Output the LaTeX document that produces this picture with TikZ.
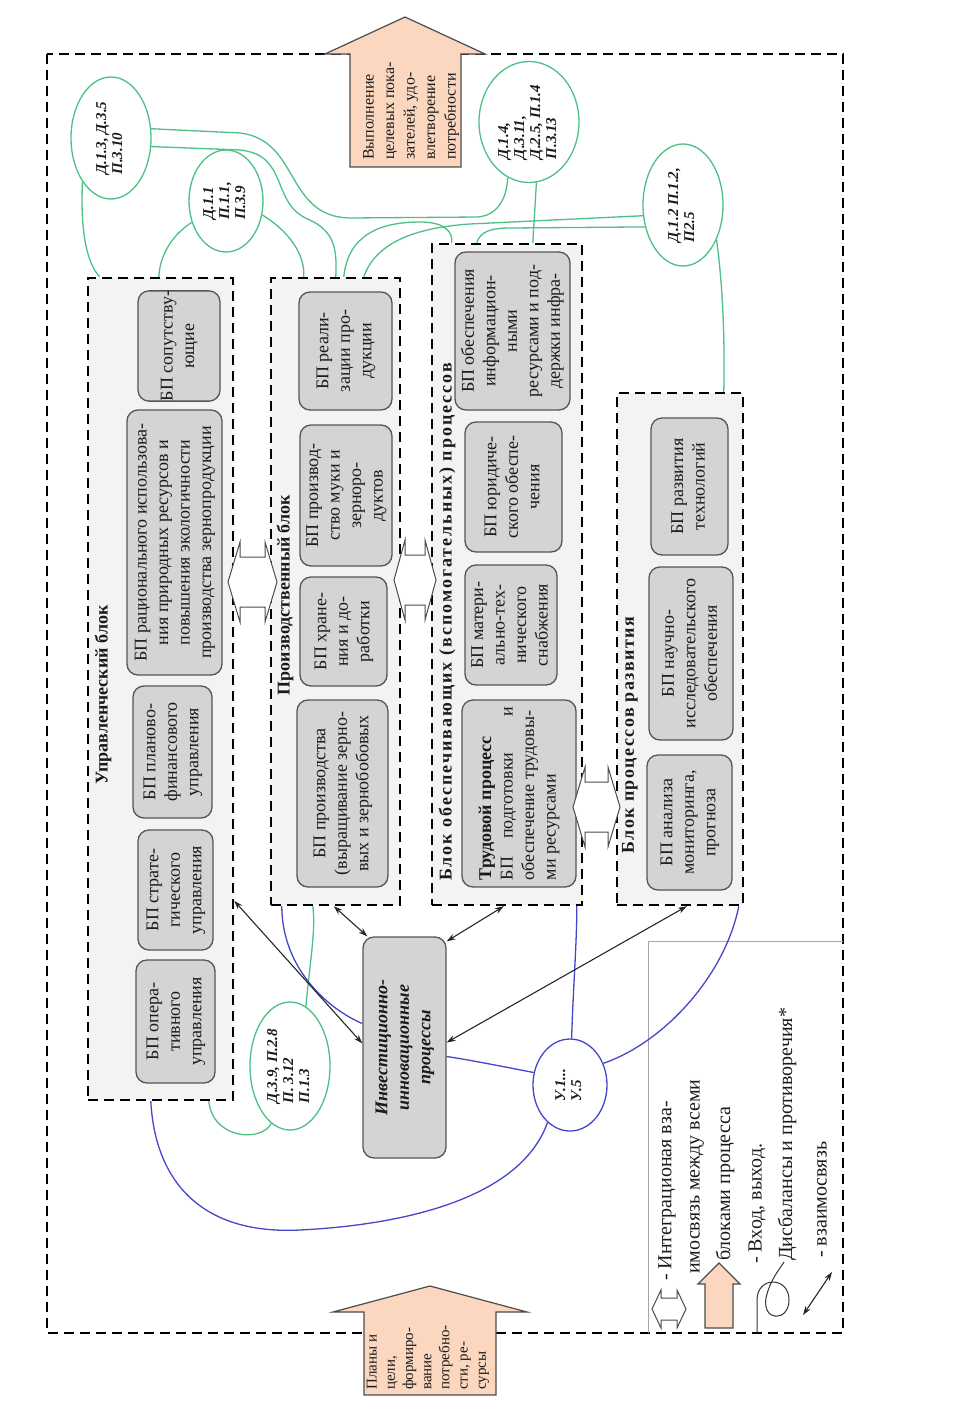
\documentclass[tikz,border=0pt]{standalone}
\usepackage{fontspec}
\setmainfont{Liberation Serif}
\usetikzlibrary{calc,arrows.meta,shapes.geometric}
\definecolor{blkfill}{HTML}{F3F3F3}
\definecolor{boxfill}{HTML}{D4D4D4}
\definecolor{boxdraw}{HTML}{555555}
\definecolor{peach}{HTML}{FAD7BE}
\definecolor{grn}{HTML}{4CC085}
\definecolor{blu}{HTML}{4646C8}
\definecolor{txt}{HTML}{1A1A1A}
\newcommand{\rtc}[1]{\rotatebox{90}{\begin{tabular}{@{}c@{}}#1\end{tabular}}}
\newcommand{\rtl}[1]{\rotatebox{90}{\begin{tabular}{@{}l@{}}#1\end{tabular}}}
\begin{document}
\begin{tikzpicture}[x=1pt,y=-1pt,
  blockbox/.style={draw=black, line width=2.4pt, dash pattern=on 10pt off 6pt, fill=blkfill, inner sep=0pt},
  pbox/.style={draw=boxdraw, line width=1.3pt, fill=boxfill, rounded corners=11pt, inner sep=0pt, text=txt, font=\fontsize{18}{21.5}\selectfont},
  ttl/.style={font=\bfseries\fontsize{18}{21.5}\selectfont, text=txt, inner sep=0pt, rotate=90},
  ell/.style={ellipse, draw=grn, line width=1.3pt, fill=white, inner sep=0pt, text=txt, font=\bfseries\itshape\fontsize{15}{16}\selectfont},
  uell/.style={ell, draw=blu},
  gline/.style={draw=grn, line width=1.3pt},
  bline/.style={draw=blu, line width=1.3pt},
  link/.style={draw=black!85, line width=1.1pt, {Stealth[length=9pt,width=6pt]}-{Stealth[length=9pt,width=6pt]}},
  intarrow/.style={draw=black!70, line width=1pt, fill=white},
  iobox/.style={draw=black!70, line width=1.2pt, fill=peach},
  lgtext/.style={font=\fontsize{20}{24}\selectfont, text=txt, inner sep=0pt, rotate=90, anchor=west},
]
\useasboundingbox (0,0) rectangle (979,1408);
% outer frame
\draw[line width=2.4pt, dash pattern=on 10pt off 6pt] (47,54) rectangle (843,1333);
% output / input arrows
\draw[iobox] (350,167) -- (350,54) -- (325,54) -- (405,17) -- (485,54) -- (461,54) -- (461,167) -- cycle;
\node[text=txt, font=\fontsize{16}{20.5}\selectfont, rotate=90, anchor=west, align=left, inner sep=0pt] (outtxt) at (411,160) {Выполнение\\целевых пока-\\зателей, удо-\\влетворение\\потребности};
\draw[iobox] (364,1395) -- (364,1312) -- (333,1312) -- (430,1286) -- (527,1312) -- (496,1312) -- (496,1395) -- cycle;
\node[text=txt, font=\fontsize{15}{18.2}\selectfont, rotate=90, anchor=west, align=left, inner sep=0pt] (intxt) at (428,1390) {Планы и\\цели,\\формиро-\\вание\\потребно-\\сти, ре-\\сурсы};
% legend frame
\draw[black!35, line width=0.8pt] (843,941) -- (648,941) -- (648,1333);
% blocks
\node[blockbox, minimum width=145pt, minimum height=822pt] (blk1) at (160.5,689) {};
\node[blockbox, minimum width=129pt, minimum height=627pt] (blk2) at (335.5,591.5) {};
\node[blockbox, minimum width=150pt, minimum height=661pt] (blk3) at (507,574.5) {};
\node[blockbox, minimum width=126pt, minimum height=512pt] (blk4) at (680,649) {};
% titles
\node[ttl] (t1) at (103,695) {Управленческий блок};
\node[ttl] (t2) at (285,595) {Производственный блок};
\node[ttl] (t3) at (447,622) {\addfontfeature{LetterSpace=11}Блок обеспечивающих (вспомогательных) процессов};
\node[ttl] (t4) at (630,735) {\addfontfeature{LetterSpace=8}Блок процессов развития};
% block 1 boxes
\node[pbox, minimum width=82pt, minimum height=108pt] (b1a) at (179,346) {\rtc{БП сопутству-\\ющие}};
\node[pbox, minimum width=95pt, minimum height=265pt] (b1b) at (174.5,542.5) {\rtc{БП рационального использова-\\ния природных ресурсов и\\повышения экологичности\\производства зернопродукции}};
\node[pbox, minimum width=79pt, minimum height=132pt] (b1c) at (172.5,752) {\rtc{БП планово-\\финансового\\управления}};
\node[pbox, minimum width=75pt, minimum height=120pt] (b1d) at (175.5,890) {\rtc{БП страте-\\гического\\управления}};
\node[pbox, minimum width=79pt, minimum height=123pt] (b1e) at (175.5,1021.5) {\rtc{БП опера-\\тивного\\управления}};
% block 2 boxes
\node[pbox, minimum width=93pt, minimum height=118pt] (b2a) at (345.5,351) {\rtc{БП реали-\\зации про-\\дукции}};
\node[pbox, minimum width=92pt, minimum height=141pt] (b2b) at (346,495.5) {\rtc{БП производ-\\ство муки и\\зерноро-\\дуктов}};
\node[pbox, minimum width=87pt, minimum height=109pt] (b2c) at (343.5,631.5) {\rtc{БП хране-\\ния и до-\\работки}};
\node[pbox, minimum width=91pt, minimum height=187pt] (b2d) at (342.5,793.5) {\rtc{БП производства\\(выращивание зерно-\\вых и зернобобовых}};
% block 3 boxes
\node[pbox, minimum width=115pt, minimum height=158pt] (b3a) at (512.5,331) {\rtc{БП обеспечения\\информацион-\\ными\\ресурсами и под-\\держки инфра-}};
\node[pbox, minimum width=97pt, minimum height=130pt] (b3b) at (513.5,487) {\rtc{БП юридиче-\\ского обеспе-\\чения}};
\node[pbox, minimum width=92pt, minimum height=120pt] (b3c) at (511,625) {\rtc{БП матери-\\ально-тех-\\нического\\снабжения}};
\node[pbox, minimum width=114pt, minimum height=187pt] (b3d) at (519,793.5) {\rtl{\textbf{Трудовой процесс}\\БП\quad подготовки\qquad и\\обеспечение трудовы-\\ми ресурсами}};
% block 4 boxes
\node[pbox, minimum width=77pt, minimum height=137pt] (b4a) at (689.5,486.5) {\rtc{БП развития\\технологий}};
\node[pbox, minimum width=84pt, minimum height=173pt] (b4b) at (691,653.5) {\rtc{БП научно-\\исследовательского\\обеспечения}};
\node[pbox, minimum width=85pt, minimum height=135pt] (b4c) at (689.5,822.5) {\rtc{БП анализа\\мониторинга,\\прогноза}};
% investment box
\node[pbox, minimum width=83pt, minimum height=221pt] (inv) at (404.5,1047.5) {\rtc{\bfseries\itshape Инвестиционно-\\\bfseries\itshape инновационные\\\bfseries\itshape процессы}};
% integration arrows
\draw[intarrow] (228,582) -- (240,542) -- (240,557) -- (265,557) -- (265,542) -- (277,582) -- (265,622) -- (265,607) -- (240,607) -- (240,622) -- cycle;
\draw[intarrow] (394,580) -- (405,540) -- (405,555) -- (425,555) -- (425,540) -- (436,580) -- (425,620) -- (425,605) -- (405,605) -- (405,620) -- cycle;
\draw[intarrow] (573,807) -- (585,767) -- (585,782) -- (608,782) -- (608,767) -- (620,807) -- (608,847) -- (608,832) -- (585,832) -- (585,847) -- cycle;
% ellipses
\node[ell, minimum width=80pt, minimum height=122pt] (A) at (111,138) {\rtl{Д.1.3, Д.3.5\\П.3.10}};
\node[ell, minimum width=74pt, minimum height=102pt] (B) at (226,201) {\rtl{Д.1.1\\П.1.1,\\П.3.9}};
\node[ell, minimum width=100pt, minimum height=121pt] (C) at (529,122) {\rtl{Д.1.4,\\Д.3.11,\\Д.2.5, П.1.4\\П.3.13}};
\node[ell, minimum width=80pt, minimum height=122pt] (D) at (683,205) {\rtl{Д.1.2 П.1.2,\\П2.5}};
\node[ell, minimum width=80pt, minimum height=128pt] (E) at (290,1066) {\rtl{Д.3.9, П.2.8\\П. 3.12\\П.1.3}};
\node[uell, minimum width=74pt, minimum height=92pt] (U) at (570,1085) {\rtl{У.1...\\У.5}};
% green links
\draw[gline] (A.237) .. controls (80,235) and (88,265) .. ($(blk1.north west)+(13,0)$);
\draw[gline] (B.212) .. controls (172,235) and (160,255) .. ($(blk1.north west)+(72,0)$);
\draw[gline] (B.339) .. controls (290,232) and (305,255) .. ($(blk2.north west)+(34,0)$);
\draw[gline] (A.13) -- (240,133) .. controls (300,140) and (285,217) .. (350,218) -- (478,217) .. controls (500,215) and (507,195) .. (C.249);
\draw[gline] (A.348) -- (240,150) .. controls (290,155) and (270,205) .. (310,220) .. controls (335,232) and (337,250) .. ($(blk2.north west)+(66,0)$);
\draw[gline] ($(blk2.north west)+(74,0)$) .. controls (348,235) and (380,222) .. (420,222) .. controls (445,222) and (453,232) .. ($(blk3.north west)+(21,0)$);
\draw[gline] ($(blk2.north west)+(94,0)$) .. controls (375,245) and (410,228) .. (470,224) -- (D.195);
\draw[gline] ($(blk3.north west)+(46,0)$) .. controls (480,232) and (490,228) .. (510,228) -- (D.210);
\draw[gline] (C.277) -- ($(blk3.north west)+(102,0)$);
\draw[gline] (D.314) .. controls (722,280) and (725,330) .. ($(blk4.north west)+(108,0)$);
\draw[gline] (E.75) .. controls (310,960) and (316,930) .. ($(blk2.south west)+(43,0)$);
\draw[gline] (E.252) .. controls (262,1142) and (213,1140) .. ($(blk1.south west)+(122,0)$);
% blue links
\draw[bline] (U.88) .. controls (573,990) and (577,940) .. ($(blk3.south west)+(146,0)$);
\draw[bline] (U.161) .. controls (500,1066) and (470,1060) .. ([yshift=-9pt]inv.east);
\draw[bline] (U.33) .. controls (665,1042) and (725,975) .. ($(blk4.south west)+(123,0)$);
\draw[bline] (U.239) .. controls (520,1200) and (400,1225) .. (300,1230) .. controls (200,1235) and (155,1180) .. ($(blk1.south west)+(64,0)$);
\draw[bline] ([yshift=24pt]inv.west) .. controls (330,1010) and (282,970) .. ($(blk2.south west)+(12,0)$);
% black interrelation arrows
\draw[link] ($(blk1.north east)+(0,624)$) -- ([yshift=4pt]inv.west);
\draw[link] ($(blk2.south west)+(64,0)$) -- ([xshift=5pt]inv.north west);
\draw[link] ($(blk3.south west)+(73,0)$) -- ([yshift=-5pt]inv.north east);
\draw[link] ($(blk4.south west)+(71,0)$) -- ([yshift=5pt]inv.east);
% legend
\draw[intarrow] (652,1309) -- (661,1290) -- (661,1298) -- (677,1298) -- (677,1290) -- (686,1309) -- (677,1328) -- (677,1320) -- (661,1320) -- (661,1328) -- cycle;
\draw[iobox] (705,1328) -- (705,1284) -- (698,1284) -- (719,1263) -- (740,1284) -- (733,1284) -- (733,1328) -- cycle;
\draw[black!80, line width=1pt] (757,1333) -- (757,1300) .. controls (757,1276) and (789,1276) .. (789,1300) .. controls (789,1322) and (762,1322) .. (766,1298) .. controls (770,1280) and (779,1270) .. (784,1262);
\coordinate (lk1) at (803,1315);
\coordinate (lk2) at (832,1272);
\draw[link] (lk1) -- (lk2);
\node[lgtext] (lg1) at (667,1281) {- Интеграционая вза-};
\node[lgtext] (lg2) at (697,1274) {имосвязь между всеми};
\node[lgtext] (lg3) at (725,1261) {блоками процесса};
\node[lgtext] (lg4) at (757,1264) {- Вход, выход.};
\node[lgtext] (lg5) at (787,1261) {Дисбалансы и противоречия*};
\node[lgtext] (lg6) at (822,1258) {- взаимосвязь};
\end{tikzpicture}
\end{document}
